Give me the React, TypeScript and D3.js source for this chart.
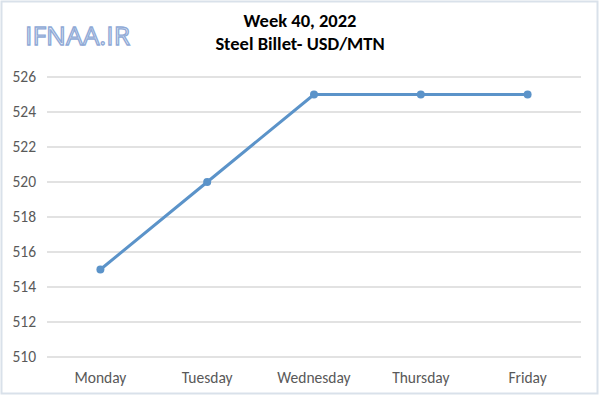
import React from "react";
import * as d3 from "d3";

const categories = ["Monday", "Tuesday", "Wednesday", "Thursday", "Friday"];
const prices = [515, 520, 525, 525, 525];
const yTicks = [510, 512, 514, 516, 518, 520, 522, 524, 526];
const titleLines = ["Week 40, 2022", "Steel Billet- USD/MTN"];
const watermark = "IFNAA.IR";

export default function App() {
  const W = 600, H = 397;
  const x = d3.scaleBand<string>().domain(categories).range([47, 581]);
  const y = d3.scaleLinear().domain([510, 526]).range([357, 77]);
  const cx = (c: string) => (x(c) as number) + x.bandwidth() / 2;
  const line = d3.line<number>().x((_, i) => cx(categories[i])).y((d) => y(d));
  const font = "Calibri, Carlito, 'Open Sans', sans-serif";
  return (
    <svg width={W} height={H} style={{ position: "absolute", left: 0, top: 0, background: "#fff" }}>
      <rect x={1.5} y={1.5} width={W - 4} height={H - 5} fill="#fff" stroke="#d9e1ea" strokeWidth={2} />
      <text x={25} y={45} fontFamily="'Open Sans', sans-serif" fontSize={26} fill="#e3ebf5" stroke="#8fa9d6" strokeWidth={1.3} textLength={105} lengthAdjust="spacingAndGlyphs">
        {watermark}
      </text>
      {titleLines.map((t, i) => (
        <text key={t} x={300} y={27 + i * 23} textAnchor="middle" fontFamily={font} fontWeight="bold" fontSize={18.5} fill="#000">
          {t}
        </text>
      ))}
      {yTicks.map((t) => (
        <g key={t}>
          <line x1={47} x2={581} y1={y(t)} y2={y(t)} stroke="#d9d9d9" strokeWidth={1.3} />
          <text x={36} y={y(t) + 5} textAnchor="end" fontFamily={font} fontSize={15.5} fill="#595959">
            {t}
          </text>
        </g>
      ))}
      {categories.map((c) => (
        <text key={c} x={cx(c)} y={383} textAnchor="middle" fontFamily={font} fontSize={15.5} fill="#595959">
          {c}
        </text>
      ))}
      <path d={line(prices) || ""} fill="none" stroke="#5b93c9" strokeWidth={3} strokeLinejoin="round" />
      {prices.map((p, i) => (
        <circle key={i} cx={cx(categories[i])} cy={y(p)} r={4} fill="#5b93c9" />
      ))}
    </svg>
  );
}
